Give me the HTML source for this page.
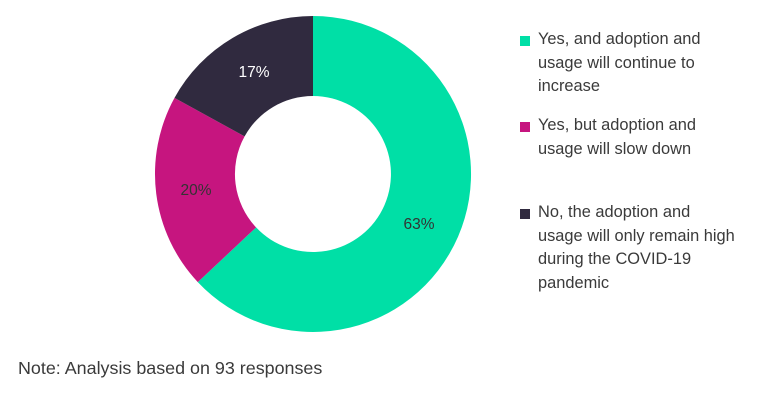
<!DOCTYPE html>
<html><head><style>
body{margin:0;width:760px;height:405px;background:#fff;overflow:hidden;font-family:"Liberation Sans",sans-serif;color:#3a3a3a;position:relative}
.lg{position:absolute;left:538px;font-size:16.4px;line-height:23.5px;white-space:nowrap}
.sq{position:absolute;left:520px;width:10px;height:10px}
</style></head><body>
<svg width="760" height="405" style="position:absolute;left:0;top:0">
<path d="M313,16 A158,158 0 1 1 197.8,282.1 L256.1,227.4 A78,78 0 1 0 313,96 Z" fill="#00DFA6"/>
<path d="M197.8,282.1 A158,158 0 0 1 174.5,97.9 L244.6,136.4 A78,78 0 0 0 256.1,227.4 Z" fill="#C6157F"/>
<path d="M174.5,97.9 A158,158 0 0 1 313,16 L313,96 A78,78 0 0 0 244.6,136.4 Z" fill="#302A3F"/>
<text x="254" y="77" fill="#fff" font-size="15.5" text-anchor="middle" font-family="Liberation Sans">17%</text>
<text x="196" y="195" fill="#333" font-size="15.5" text-anchor="middle" font-family="Liberation Sans">20%</text>
<text x="419" y="229" fill="#333" font-size="15.5" text-anchor="middle" font-family="Liberation Sans">63%</text>
</svg>
<div class="sq" style="top:36px;background:#00DFA6"></div>
<div class="lg" style="top:28px">Yes, and adoption and<br>usage will continue to<br>increase</div>
<div class="sq" style="top:122px;background:#C6157F"></div>
<div class="lg" style="top:114px">Yes, but adoption and<br>usage will slow down</div>
<div class="sq" style="top:209px;background:#302A3F"></div>
<div class="lg" style="top:201px">No, the adoption and<br>usage will only remain high<br>during the COVID-19<br>pandemic</div>
<div style="position:absolute;left:18px;top:358px;font-size:17.9px">Note: Analysis based on 93 responses</div>
</body></html>
